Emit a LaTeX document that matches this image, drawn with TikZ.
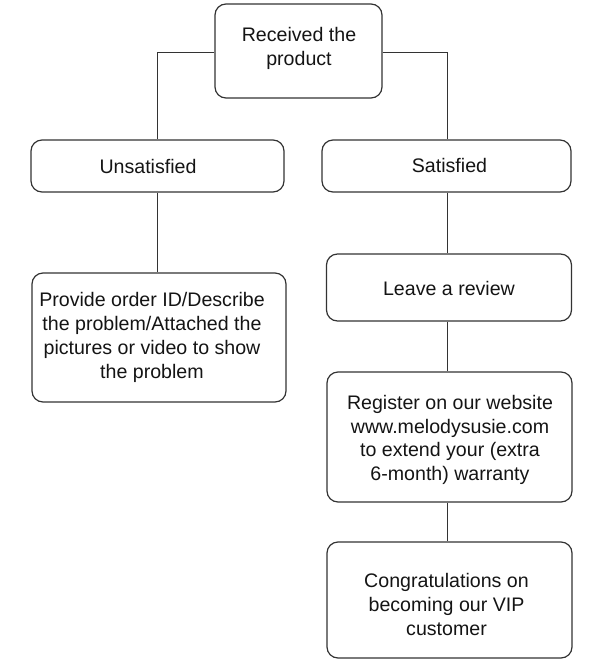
\documentclass[tikz,border=0pt]{standalone}
\usepackage{fontspec}
\setmainfont{Liberation Sans}
\begin{document}
\begin{tikzpicture}[x=1pt,y=-1pt,
  box/.style={draw=black!80, line width=1.2pt, rounded corners=11pt, inner sep=0pt},
  txt/.style={align=center, text=black!92, font=\fontsize{19.6}{23.8}\selectfont, inner sep=0pt},
  link/.style={draw=black!80, line width=0.8pt}]
\useasboundingbox (0,0) rectangle (595,662);
% boxes
\node[box, minimum width=167pt, minimum height=94pt] (top) at (298.5,51) {};
\node[box, minimum width=253pt, minimum height=52pt] (uns) at (157.5,166) {};
\node[box, minimum width=249pt, minimum height=52pt] (sat) at (446.5,166) {};
\node[box, minimum width=254pt, minimum height=129pt] (prov) at (159,337.5) {};
\node[box, minimum width=245pt, minimum height=67pt] (rev) at (449,287.5) {};
\node[box, minimum width=245pt, minimum height=130pt] (reg) at (449.5,437) {};
\node[box, minimum width=245pt, minimum height=116pt] (vip) at (449.5,600) {};
% texts
\node[txt] (ttop) at (299,48.5) {Received the\\product};
\node[txt] (tuns) at (148,166) {Unsatisfied};
\node[txt] (tsat) at (449.5,165) {Satisfied};
\node[txt] (tprov) at (152,337.5) {Provide order ID/Describe\\the problem/Attached the\\pictures or video to show\\the problem};
\node[txt] (trev) at (449,288) {Leave a review};
\node[txt] (treg) at (450,440) {Register on our website\\www.melodysusie.com\\to extend your (extra\\6-month) warranty};
\node[txt] (tvip) at (446.5,604.5) {Congratulations on\\becoming our VIP\\customer};
% connectors
\coordinate (cl) at (157,52);
\coordinate (cr) at (447,52);
\draw[link] (top.west |- cl) -- (cl) -- (cl |- uns.north);
\draw[link] (top.east |- cr) -- (cr) -- (cr |- sat.north);
\draw[link] (uns.south -| cl) -- (prov.north -| cl);
\draw[link] (sat.south -| cr) -- (rev.north -| cr);
\draw[link] (rev.south -| cr) -- (reg.north -| cr);
\draw[link] (reg.south -| cr) -- (vip.north -| cr);
\end{tikzpicture}
\end{document}
